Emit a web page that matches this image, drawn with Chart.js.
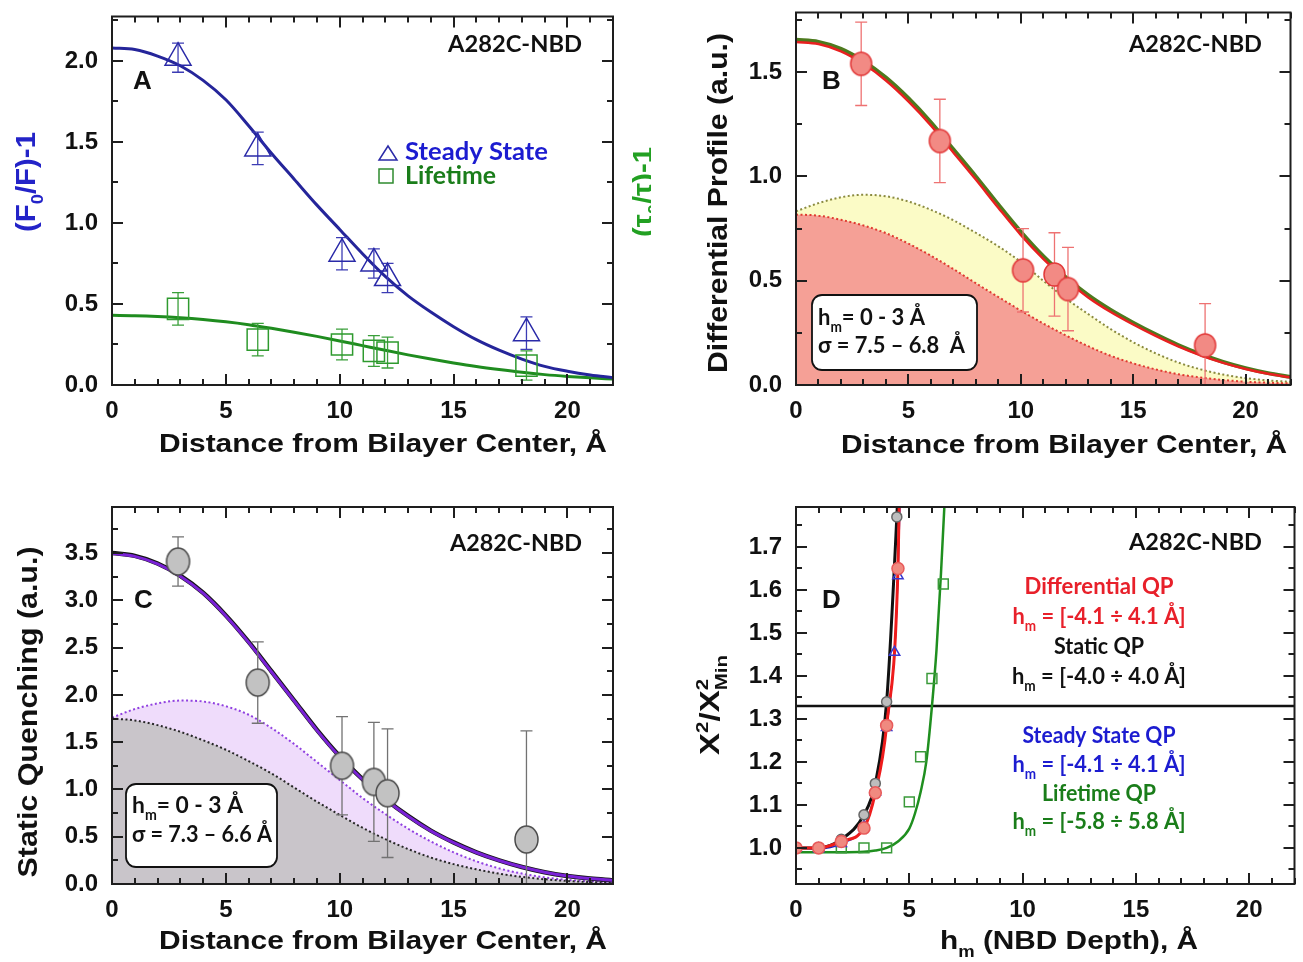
<!DOCTYPE html>
<html>
<head>
<meta charset="utf-8">
<title>A282C-NBD depth profiles</title>
<script src="https://cdn.jsdelivr.net/npm/chart.js@4.4.1/dist/chart.umd.min.js"></script>
<style>
  html, body { margin: 0; padding: 0; background: #fff; }
  #fig { position: relative; width: 1303px; height: 962px; overflow: hidden; background: #fff; }
  #fig canvas { position: absolute; }
</style>
</head>
<body>
<div id="fig">
  <canvas id="panelA" width="651" height="475" style="left:0;top:0;width:651px;height:475px"></canvas>
  <canvas id="panelB" width="652" height="475" style="left:651px;top:0;width:652px;height:475px"></canvas>
  <canvas id="panelC" width="651" height="487" style="left:0;top:475px;width:651px;height:487px"></canvas>
  <canvas id="panelD" width="652" height="487" style="left:651px;top:475px;width:652px;height:487px"></canvas>
</div>
<script>
// ---- data ----
const curveX = [0, 1, 2, 3, 4, 5, 6, 7, 8, 9, 10, 11, 12, 13, 14, 15, 16, 17, 18, 19, 20, 21, 22];
const probeDepth = [2.9, 6.4, 10.1, 11.5, 12.1, 18.2];
const xTickVals = [0, 5, 10, 15, 20];

// panel A
const steadyState = [2.02, 1.46, 0.81, 0.75, 0.66, 0.32];
const steadyErr = [0.09, 0.10, 0.10, 0.09, 0.09, 0.10];
const lifetime = [0.47, 0.28, 0.25, 0.21, 0.20, 0.12];
const lifetimeErr = [0.10, 0.10, 0.095, 0.095, 0.095, 0.09];
const steadyFit = [2.08, 2.07, 2.03, 1.97, 1.88, 1.76, 1.60, 1.43, 1.27, 1.11, 0.96, 0.81, 0.67, 0.55, 0.45, 0.36, 0.28, 0.215, 0.16, 0.115, 0.085, 0.062, 0.045];
const lifetimeFit = [0.43, 0.428, 0.423, 0.415, 0.404, 0.39, 0.372, 0.35, 0.326, 0.30, 0.272, 0.243, 0.214, 0.186, 0.16, 0.136, 0.114, 0.095, 0.078, 0.064, 0.053, 0.044, 0.037];
const yTicksA = [0.0, 0.5, 1.0, 1.5, 2.0];

// panel B
const diffProfile = [1.54, 1.17, 0.55, 0.53, 0.46, 0.19];
const diffErr = [0.20, 0.20, 0.20, 0.20, 0.20, 0.20];
const diffFitRed = [1.645, 1.635, 1.60, 1.54, 1.46, 1.36, 1.245, 1.115, 0.985, 0.85, 0.72, 0.605, 0.505, 0.42, 0.35, 0.29, 0.235, 0.185, 0.142, 0.106, 0.077, 0.054, 0.037];
const diffFitGreen = [1.655, 1.645, 1.612, 1.553, 1.474, 1.375, 1.26, 1.13, 1.0, 0.865, 0.735, 0.618, 0.517, 0.431, 0.36, 0.299, 0.243, 0.192, 0.148, 0.111, 0.081, 0.057, 0.039];
const diffUpper = [0.833, 0.872, 0.900, 0.912, 0.905, 0.880, 0.840, 0.790, 0.730, 0.665, 0.590, 0.500, 0.415, 0.340, 0.268, 0.205, 0.152, 0.108, 0.075, 0.050, 0.033, 0.022, 0.015];
const diffLower = [0.817, 0.812, 0.792, 0.765, 0.728, 0.678, 0.620, 0.556, 0.488, 0.422, 0.357, 0.295, 0.238, 0.186, 0.140, 0.104, 0.075, 0.052, 0.036, 0.024, 0.016, 0.011, 0.008];
const yTicksB = [0.0, 0.5, 1.0, 1.5];

// panel C
const staticQ = [3.41, 2.13, 1.25, 1.08, 0.96, 0.47];
const staticErr = [0.26, 0.43, 0.52, 0.63, 0.68, 1.15];
const staticFitBlack = [3.50, 3.47, 3.39, 3.26, 3.08, 2.84, 2.56, 2.25, 1.94, 1.63, 1.35, 1.11, 0.90, 0.72, 0.565, 0.44, 0.335, 0.25, 0.18, 0.125, 0.085, 0.057, 0.038];
const staticFitPurple = [3.495, 3.465, 3.385, 3.255, 3.075, 2.835, 2.555, 2.245, 1.935, 1.625, 1.345, 1.105, 0.896, 0.716, 0.562, 0.437, 0.333, 0.248, 0.179, 0.124, 0.084, 0.057, 0.038];
const staticUpper = [1.76, 1.85, 1.91, 1.94, 1.93, 1.88, 1.79, 1.65, 1.48, 1.29, 1.10, 0.91, 0.74, 0.585, 0.45, 0.335, 0.24, 0.165, 0.11, 0.07, 0.044, 0.027, 0.016];
const staticLower = [1.75, 1.73, 1.68, 1.61, 1.52, 1.42, 1.30, 1.17, 1.02, 0.87, 0.73, 0.595, 0.475, 0.37, 0.28, 0.21, 0.155, 0.11, 0.075, 0.05, 0.032, 0.02, 0.012];
const yTicksC = [0.0, 0.5, 1.0, 1.5, 2.0, 2.5, 3.0, 3.5];

// panel D
const chiStaticX = [0, 1, 2, 3, 3.5, 4, 4.45];
const chiStaticY = [1.0, 1.0, 1.02, 1.077, 1.15, 1.34, 1.77];
const chiStaticLineX = [0, 1, 2, 3, 3.5, 4, 4.45, 4.5];
const chiStaticLineY = [1.0, 1.0, 1.02, 1.077, 1.15, 1.34, 1.77, 1.83];
const chiDiffX = [0, 1, 2, 3, 3.5, 4, 4.5];
const chiDiffY = [1.0, 1.0, 1.015, 1.046, 1.128, 1.285, 1.65];
const chiDiffLineX = [0, 1, 2, 3, 3.5, 4, 4.5, 4.56];
const chiDiffLineY = [1.0, 1.0, 1.015, 1.046, 1.128, 1.285, 1.65, 1.82];
const chiSteadyX = [0, 1, 2, 3, 3.5, 4, 4.35, 4.5];
const chiSteadyY = [1.0, 0.998, 1.01, 1.05, 1.13, 1.28, 1.455, 1.633];
const chiSteadyLineX = [0, 1, 2, 3, 3.5, 4, 4.35, 4.5, 4.6];
const chiSteadyLineY = [1.0, 0.998, 1.01, 1.05, 1.13, 1.28, 1.455, 1.633, 1.82];
const chiLifeX = [2, 3, 4, 5, 5.5, 6, 6.5];
const chiLifeY = [1.0, 1.0, 1.0, 1.107, 1.212, 1.394, 1.614];
const chiLifeFitX = [0, 1, 2, 3, 3.5, 4, 4.5, 5, 5.25, 5.5, 5.75, 6, 6.2, 6.4, 6.6];
const chiLifeFitY = [0.99, 0.99, 0.99, 0.991, 0.994, 1.0, 1.015, 1.045, 1.08, 1.13, 1.2, 1.33, 1.46, 1.64, 1.85];
const thresholdX = [0, 22];
const thresholdY = [1.33, 1.33];
const yTicksD = [1.0, 1.1, 1.2, 1.3, 1.4, 1.5, 1.6, 1.7];

// ---- helpers ----
const ARIAL = '"Liberation Sans", Arial, sans-serif';
const CAL = 'Lato, "Open Sans", sans-serif';
const pts = (xs, ys) => xs.map((x, i) => ({ x: x, y: ys[i] }));

function curve(xs, ys, color, width, extra) {
    return Object.assign({
        data: pts(xs, ys), borderColor: color, borderWidth: width,
        pointRadius: 0, cubicInterpolationMode: 'monotone', fill: false
    }, extra || {});
}

function markers(xs, ys, style, radius, stroke, fill, extra) {
    return Object.assign({
        data: pts(xs, ys), showLine: false, pointStyle: style, pointRadius: radius,
        borderColor: stroke, backgroundColor: fill, pointBorderWidth: 1.5, borderWidth: 1.5
    }, extra || {});
}

function ellipseMarker(w, h, fill, stroke) {
    const c = document.createElement('canvas');
    c.width = w + 4; c.height = h + 4;
    const g = c.getContext('2d');
    g.beginPath();
    g.ellipse(c.width / 2, c.height / 2, w / 2, h / 2, 0, 0, Math.PI * 2);
    g.fillStyle = fill; g.fill();
    g.lineWidth = 1.5; g.strokeStyle = stroke; g.stroke();
    return c;
}

function axes(p) {
    const tickFont = { family: ARIAL, size: 24, weight: 'bold' };
    return {
        x: {
            type: 'linear', min: 0, max: 22,
            grid: { display: false, drawTicks: false }, border: { display: false },
            ticks: { font: tickFont, color: '#111', padding: p.xPad, maxRotation: 0, autoSkip: false, callback: v => String(v) },
            afterBuildTicks: s => { s.ticks = xTickVals.map(v => ({ value: v })); },
            afterFit: s => { s.height = p.xH; s.paddingLeft = 0; s.paddingRight = 0; }
        },
        y: {
            type: 'linear', min: p.yMin, max: p.yMax,
            grid: { display: false, drawTicks: false }, border: { display: false },
            ticks: { font: tickFont, color: '#111', padding: 14, autoSkip: false, callback: v => v.toFixed(1) },
            afterBuildTicks: s => { s.ticks = p.yTicks.map(v => ({ value: v })); },
            afterFit: s => { s.width = p.yW; s.paddingTop = 0; s.paddingBottom = 0; }
        }
    };
}

// frame with inward ticks on all four sides
function frameTicks(conf) {
    return {
        id: 'frameTicks',
        afterDraw(chart) {
            const { ctx, chartArea: a, scales: { x, y } } = chart;
            const marks = (scale, step, major) => {
                const out = [];
                const first = Math.ceil(scale.min / step - 1e-6);
                const last = Math.floor(scale.max / step + 1e-6);
                for (let k = first; k <= last; k++) {
                    const v = k * step;
                    const isMajor = Math.abs(v / major - Math.round(v / major)) < 1e-6;
                    out.push({ p: Math.round(scale.getPixelForValue(v)), len: isMajor ? 11 : 6 });
                }
                return out;
            };
            ctx.save();
            ctx.strokeStyle = '#1e1e1e';
            ctx.lineWidth = 2;
            ctx.beginPath();
            marks(x, conf.xMinor, conf.xMajor).forEach(m => {
                ctx.moveTo(m.p, a.bottom); ctx.lineTo(m.p, a.bottom - m.len);
                ctx.moveTo(m.p, a.top); ctx.lineTo(m.p, a.top + m.len);
            });
            marks(y, conf.yMinor, conf.yMajor).forEach(m => {
                ctx.moveTo(a.left, m.p); ctx.lineTo(a.left + m.len, m.p);
                ctx.moveTo(a.right, m.p); ctx.lineTo(a.right - m.len, m.p);
            });
            ctx.stroke();
            ctx.strokeRect(a.left, a.top, a.right - a.left, a.bottom - a.top);
            ctx.restore();
        }
    };
}

// error bars for datasets carrying an err array
const errorBars = {
    id: 'errorBars',
    beforeDatasetDraw(chart, args) {
        const ds = chart.data.datasets[args.index];
        if (!ds.err) return;
        const { ctx, chartArea: a, scales: { x, y } } = chart;
        ctx.save();
        ctx.beginPath();
        ctx.rect(a.left, a.top, a.right - a.left, a.bottom - a.top);
        ctx.clip();
        ctx.strokeStyle = ds.errColor;
        ctx.lineWidth = 1.3;
        ctx.beginPath();
        ds.data.forEach((p, i) => {
            const px = x.getPixelForValue(p.x);
            const top = y.getPixelForValue(p.y + ds.err[i]);
            const bot = y.getPixelForValue(p.y - ds.err[i]);
            ctx.moveTo(px, top); ctx.lineTo(px, bot);
            ctx.moveTo(px - 6, top); ctx.lineTo(px + 6, top);
            ctx.moveTo(px - 6, bot); ctx.lineTo(px + 6, bot);
        });
        ctx.stroke();
        ctx.restore();
    }
};
Chart.register(errorBars);

// text with sub/superscripts
function drawRich(ctx, it) {
    const size = it.size || 24;
    const fam = it.font || ARIAL;
    const runs = typeof it.t === 'string' ? [[it.t]] : it.t;
    let cx = 0, total = 0, prevStart = 0;
    const parts = runs.map(([t, k]) => {
        const s = k ? size * 0.62 : size;
        ctx.font = 'bold ' + s + 'px ' + fam;
        const w = ctx.measureText(t).width;
        const start = k === 'stack' ? prevStart : cx;
        prevStart = start;
        cx = Math.max(cx, start + w);
        total = Math.max(total, cx);
        return { t, k, s, start };
    });
    const sx = it.w ? it.w / total : 1;
    ctx.save();
    ctx.translate(it.x, it.y);
    if (it.rot) ctx.rotate(-Math.PI / 2);
    ctx.scale(sx, 1);
    const x0 = it.align === 'left' ? 0 : -total / 2;
    ctx.fillStyle = it.color || '#111';
    ctx.textBaseline = 'alphabetic';
    ctx.textAlign = 'left';
    parts.forEach(p => {
        ctx.font = 'bold ' + p.s + 'px ' + fam;
        const dy = (p.k === 'sub' || p.k === 'stack') ? size * 0.3 : p.k === 'sup' ? -size * 0.42 : 0;
        ctx.fillText(p.t, x0 + p.start, dy);
    });
    ctx.restore();
}

function drawItem(ctx, it) {
    ctx.save();
    if (it.box) {
        const { x, y, w, h } = it, r = 10;
        ctx.beginPath();
        ctx.moveTo(x + r, y);
        ctx.arcTo(x + w, y, x + w, y + h, r);
        ctx.arcTo(x + w, y + h, x, y + h, r);
        ctx.arcTo(x, y + h, x, y, r);
        ctx.arcTo(x, y, x + w, y, r);
        ctx.closePath();
        ctx.fillStyle = '#fff'; ctx.fill();
        ctx.lineWidth = 1.8; ctx.strokeStyle = '#111'; ctx.stroke();
    } else if (it.tri) {
        ctx.beginPath();
        ctx.moveTo(it.x, it.y - 7); ctx.lineTo(it.x + 9, it.y + 7); ctx.lineTo(it.x - 9, it.y + 7);
        ctx.closePath();
        ctx.lineWidth = 1.5; ctx.strokeStyle = it.color; ctx.stroke();
    } else if (it.sq) {
        ctx.lineWidth = 1.5; ctx.strokeStyle = it.color;
        ctx.strokeRect(it.x - 7, it.y - 7, 14, 14);
    } else {
        drawRich(ctx, it);
    }
    ctx.restore();
}

function textLayer(items) {
    return { id: 'textLayer', afterDraw(chart) { items.forEach(it => drawItem(chart.ctx, it)); } };
}

function makeChart(id, datasets, axisConf, pad, tickConf, items) {
    return new Chart(document.getElementById(id), {
        type: 'line',
        data: { datasets: datasets },
        options: {
            responsive: false,
            animation: false,
            events: [],
            layout: { padding: pad },
            plugins: { legend: { display: false }, tooltip: { enabled: false } },
            scales: axes(axisConf)
        },
        plugins: [frameTicks(tickConf), textLayer(items)]
    });
}

const hm = (rest) => [['h'], ['m', 'sub'], [rest]];

// ---- panel A ----
makeChart('panelA', [
    markers(probeDepth, steadyState, 'triangle', 15, '#2a2aa8', 'rgba(255,255,255,0)', { err: steadyErr, errColor: '#3c3cb4' }),
    markers(probeDepth, lifetime, 'rect', 15, '#2e9a2e', 'rgba(255,255,255,0)', { err: lifetimeErr, errColor: '#3a9f3a' }),
    curve(curveX, steadyFit, '#25259a', 3),
    curve(curveX, lifetimeFit, '#1f8c1f', 3)
], { yMin: 0, yMax: 2.274, yTicks: yTicksA, xH: 90, yW: 112, xPad: 12 },
   { top: 12, right: 38, bottom: 0, left: 0 },
   { xMinor: 1, xMajor: 5, yMinor: 0.25, yMajor: 0.5 },
   [
    { t: 'A282C-NBD', x: 448, y: 52, size: 23, font: CAL, align: 'left', w: 134 },
    { t: 'A', x: 133, y: 89, size: 26, align: 'left' },
    { tri: true, x: 388, y: 153, color: '#2a2aa8' },
    { sq: true, x: 386, y: 176, color: '#2e8b2e' },
    { t: 'Steady State', x: 405, y: 160, size: 24, font: CAL, color: '#1c1cd0', align: 'left', w: 143 },
    { t: 'Lifetime', x: 405, y: 184, size: 24, font: CAL, color: '#1a7d1a', align: 'left', w: 91 },
    { t: [['(F'], ['0', 'sub'], ['/F)-1']], x: 35, y: 182, rot: true, size: 28, color: '#2323c8', w: 100 },
    { t: [['(τ'], ['0', 'sub'], ['/τ)-1']], x: 652, y: 192, rot: true, size: 28, color: '#22a022', w: 90 },
    { t: 'Distance from Bilayer Center, Å', x: 383, y: 452, size: 26, w: 448 }
]);

// ---- panel B ----
makeChart('panelB', [
    markers(probeDepth, diffProfile, ellipseMarker(21, 23, '#f28a84', '#e23a3a'), 11, '#e23a3a', '#f28a84', { err: diffErr, errColor: '#ee7272' }),
    curve(curveX, diffFitRed, '#e82020', 2.5),
    curve(curveX, diffFitGreen, '#4d7a1e', 4),
    curve(curveX, diffLower, '#e03a30', 2, { borderDash: [2, 2.5], fill: 'origin', backgroundColor: '#f5a096' }),
    curve(curveX, diffUpper, '#8a8a40', 2, { borderDash: [2, 2.5], fill: 'origin', backgroundColor: '#fbfbc6' })
], { yMin: 0, yMax: 1.786, yTicks: yTicksB, xH: 90, yW: 145, xPad: 12 },
   { top: 12, right: 6, bottom: 0, left: 0 },
   { xMinor: 1, xMajor: 5, yMinor: 0.25, yMajor: 0.5 },
   [
    { t: 'A282C-NBD', x: 478, y: 52, size: 23, font: CAL, align: 'left', w: 133 },
    { t: 'B', x: 171, y: 89, size: 26, align: 'left' },
    { t: 'Differential Profile (a.u.)', x: 76, y: 203, rot: true, size: 27, w: 340 },
    { t: 'Distance from Bilayer Center, Å', x: 413, y: 453, size: 26, w: 446 },
    { box: true, x: 161, y: 295, w: 165, h: 75 },
    { t: hm('= 0 - 3 Å'), x: 167, y: 325, size: 23, font: CAL, align: 'left', w: 107 },
    { t: 'σ = 7.5 – 6.8  Å', x: 167, y: 353, size: 23, font: CAL, align: 'left', w: 147 }
]);

// ---- panel C ----
makeChart('panelC', [
    markers(probeDepth, staticQ, ellipseMarker(23, 27, '#c2c2c2', '#4a4a4a'), 13, '#4a4a4a', '#c2c2c2', { err: staticErr, errColor: '#727272' }),
    curve(curveX, staticFitPurple, '#7a22d6', 3),
    curve(curveX, staticFitBlack, '#141414', 4.5),
    curve(curveX, staticLower, '#262626', 2, { borderDash: [2, 2.5], fill: 'origin', backgroundColor: '#c9c5ca' }),
    curve(curveX, staticUpper, '#9040e0', 2, { borderDash: [2, 2.5], fill: 'origin', backgroundColor: '#efdcfb' })
], { yMin: 0, yMax: 3.987, yTicks: yTicksC, xH: 78, yW: 112, xPad: 12 },
   { top: 32, right: 38, bottom: 0, left: 0 },
   { xMinor: 1, xMajor: 5, yMinor: 0.25, yMajor: 0.5 },
   [
    { t: 'A282C-NBD', x: 450, y: 76, size: 23, font: CAL, align: 'left', w: 132 },
    { t: 'C', x: 134, y: 133, size: 26, align: 'left' },
    { t: 'Static Quenching (a.u.)', x: 37, y: 237, rot: true, size: 27, w: 331 },
    { t: 'Distance from Bilayer Center, Å', x: 383, y: 474, size: 26, w: 448 },
    { box: true, x: 126, y: 309, w: 151, h: 83 },
    { t: hm('= 0 - 3 Å'), x: 132, y: 338, size: 23, font: CAL, align: 'left', w: 111 },
    { t: 'σ = 7.3 – 6.6 Å', x: 132, y: 367, size: 23, font: CAL, align: 'left', w: 140 }
]);

// ---- panel D ----
makeChart('panelD', [
    markers(chiDiffX, chiDiffY, 'circle', 6, '#e85a5a', '#f08a80'),
    markers(chiStaticX, chiStaticY, 'circle', 5, '#666666', '#bdbdbd'),
    markers(chiSteadyX, chiSteadyY, 'triangle', 6, '#3a3ad0', 'rgba(255,255,255,0)'),
    markers(chiLifeX, chiLifeY, 'rect', 7, '#3a9a3a', 'rgba(255,255,255,0)'),
    curve(chiDiffLineX, chiDiffLineY, '#ee1c1c', 3),
    curve(chiStaticLineX, chiStaticLineY, '#111111', 3),
    curve(chiSteadyLineX, chiSteadyLineY, '#2424c8', 1.5),
    curve(chiLifeFitX, chiLifeFitY, '#1f8f1f', 2.5),
    curve(thresholdX, thresholdY, '#111111', 2.5)
], { yMin: 0.916, yMax: 1.793, yTicks: yTicksD, xH: 78, yW: 145, xPad: 12 },
   { top: 32, right: 6, bottom: 0, left: 0 },
   { xMinor: 1, xMajor: 5, yMinor: 0.05, yMajor: 0.1 },
   [
    { t: 'A282C-NBD', x: 478, y: 75, size: 23, font: CAL, align: 'left', w: 133 },
    { t: 'D', x: 171, y: 133, size: 26, align: 'left' },
    { t: 'Differential QP', x: 448, y: 119, size: 23, font: CAL, color: '#e8202a', w: 149 },
    { t: hm(' = [-4.1 ÷ 4.1 Å]'), x: 448, y: 149, size: 23, font: CAL, color: '#e8202a', w: 173 },
    { t: 'Static QP', x: 448, y: 179, size: 23, font: CAL, color: '#111', w: 90 },
    { t: hm(' = [-4.0 ÷ 4.0 Å]'), x: 448, y: 209, size: 23, font: CAL, color: '#111', w: 174 },
    { t: 'Steady State QP', x: 448, y: 268, size: 23, font: CAL, color: '#1c1cd0', w: 153 },
    { t: hm(' = [-4.1 ÷ 4.1 Å]'), x: 448, y: 297, size: 23, font: CAL, color: '#1c1cd0', w: 173 },
    { t: 'Lifetime QP', x: 448, y: 326, size: 23, font: CAL, color: '#1a7d1a', w: 114 },
    { t: hm(' = [-5.8 ÷ 5.8 Å]'), x: 448, y: 354, size: 23, font: CAL, color: '#1a7d1a', w: 173 },
    { t: [['X'], ['2', 'sup'], ['/X'], ['2', 'sup'], ['Min', 'stack']], x: 68, y: 230, rot: true, size: 27, w: 100 },
    { t: hm(' (NBD Depth), Å'), x: 418, y: 474, size: 26, w: 258 }
]);
</script>
</body>
</html>
